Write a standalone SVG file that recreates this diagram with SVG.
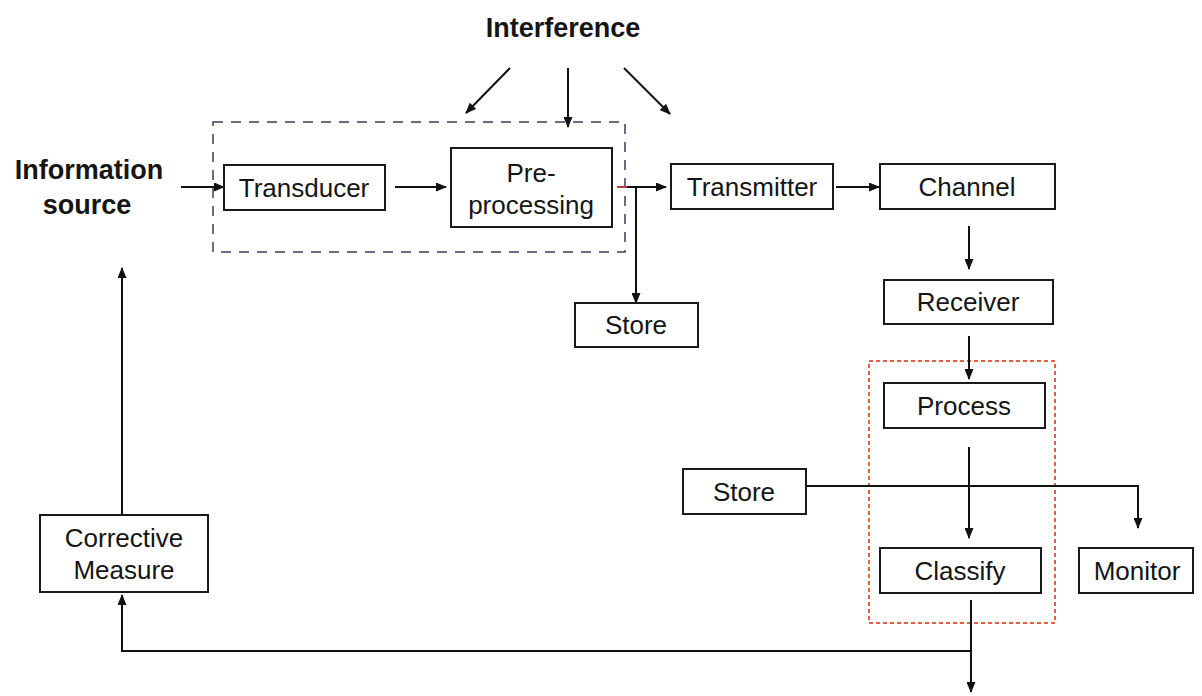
<svg xmlns="http://www.w3.org/2000/svg" width="1202" height="696" viewBox="0 0 1202 696">
<defs>
<marker id="ah" markerWidth="11" markerHeight="9" refX="10" refY="4.5" orient="auto" markerUnits="userSpaceOnUse">
<path d="M0,0 L11,4.5 L0,9 z" fill="#111"/>
</marker>
<style>
.box{fill:#fff;stroke:#1a1a1a;stroke-width:2}
.lbl{font-family:"Liberation Sans",Arial,sans-serif;font-size:26px;fill:#151515;text-anchor:middle}
.bold{font-family:"Liberation Sans",Arial,sans-serif;font-size:27px;font-weight:bold;fill:#151515;text-anchor:middle}
.conn{fill:none;stroke:#111;stroke-width:2}
.arr{marker-end:url(#ah)}
</style>
</defs>
<rect width="1202" height="696" fill="#fff"/>
<g id="groups">
<rect id="sensor-group" x="213" y="122" width="412" height="130" fill="none" stroke="#3b3b58" stroke-width="1.5" stroke-dasharray="10 8"/>
<rect id="analysis-group" x="869" y="361" width="186" height="262" fill="none" stroke="#e0603f" stroke-width="2" stroke-dasharray="4 3"/>
</g>
<g id="connectors">
<line class="conn arr" x1="510" y1="68" x2="466" y2="113"/>
<line class="conn arr" x1="568" y1="68" x2="568" y2="127"/>
<line class="conn arr" x1="624" y1="68" x2="670" y2="114"/>
<line class="conn arr" x1="181" y1="187" x2="224" y2="187"/>
<line class="conn arr" x1="395" y1="187" x2="446" y2="187"/>
<line class="conn arr" x1="618" y1="187" x2="666" y2="187"/>
<line x1="617" y1="187" x2="627" y2="187" stroke="#b04040" stroke-width="2"/>
<line class="conn arr" x1="636" y1="187" x2="636" y2="303"/>
<line class="conn arr" x1="836" y1="187" x2="879" y2="187"/>
<line class="conn arr" x1="969" y1="226" x2="969" y2="269"/>
<line class="conn arr" x1="969" y1="336" x2="969" y2="379"/>
<line class="conn arr" x1="969" y1="447" x2="969" y2="538"/>
<polyline class="conn arr" points="806,486 1138,486 1138,528"/>
<line class="conn arr" x1="971" y1="600" x2="971" y2="692"/>
<polyline class="conn arr" points="971,651 122,651 122,595"/>
<line class="conn arr" x1="122" y1="515" x2="122" y2="268"/>
</g>
<g id="interference"><text class="bold" x="563" y="37">Interference</text></g>
<g id="information-source"><text class="bold" x="89" y="179">Information</text><text class="bold" x="87" y="214">source</text></g>
<g id="transducer"><rect class="box" x="224" y="165" width="161" height="45"/><text class="lbl" x="304" y="197">Transducer</text></g>
<g id="preprocessing"><rect class="box" x="451" y="148" width="161" height="79"/><text class="lbl" x="531" y="182">Pre-</text><text class="lbl" x="531" y="214">processing</text></g>
<g id="store1"><rect class="box" x="575" y="303" width="123" height="44"/><text class="lbl" x="636" y="334">Store</text></g>
<g id="transmitter"><rect class="box" x="671" y="164" width="162" height="45"/><text class="lbl" x="752" y="196">Transmitter</text></g>
<g id="channel"><rect class="box" x="880" y="164" width="175" height="45"/><text class="lbl" x="967" y="196">Channel</text></g>
<g id="receiver"><rect class="box" x="884" y="280" width="169" height="44"/><text class="lbl" x="968" y="311">Receiver</text></g>
<g id="process"><rect class="box" x="884" y="383" width="161" height="45"/><text class="lbl" x="964" y="415">Process</text></g>
<g id="store2"><rect class="box" x="683" y="469" width="123" height="45"/><text class="lbl" x="744" y="501">Store</text></g>
<g id="classify"><rect class="box" x="880" y="548" width="161" height="45"/><text class="lbl" x="960" y="580">Classify</text></g>
<g id="monitor"><rect class="box" x="1079" y="548" width="114" height="45"/><text class="lbl" x="1137" y="580">Monitor</text></g>
<g id="corrective"><rect class="box" x="40" y="515" width="168" height="77"/><text class="lbl" x="124" y="547">Corrective</text><text class="lbl" x="124" y="579">Measure</text></g>
</svg>
